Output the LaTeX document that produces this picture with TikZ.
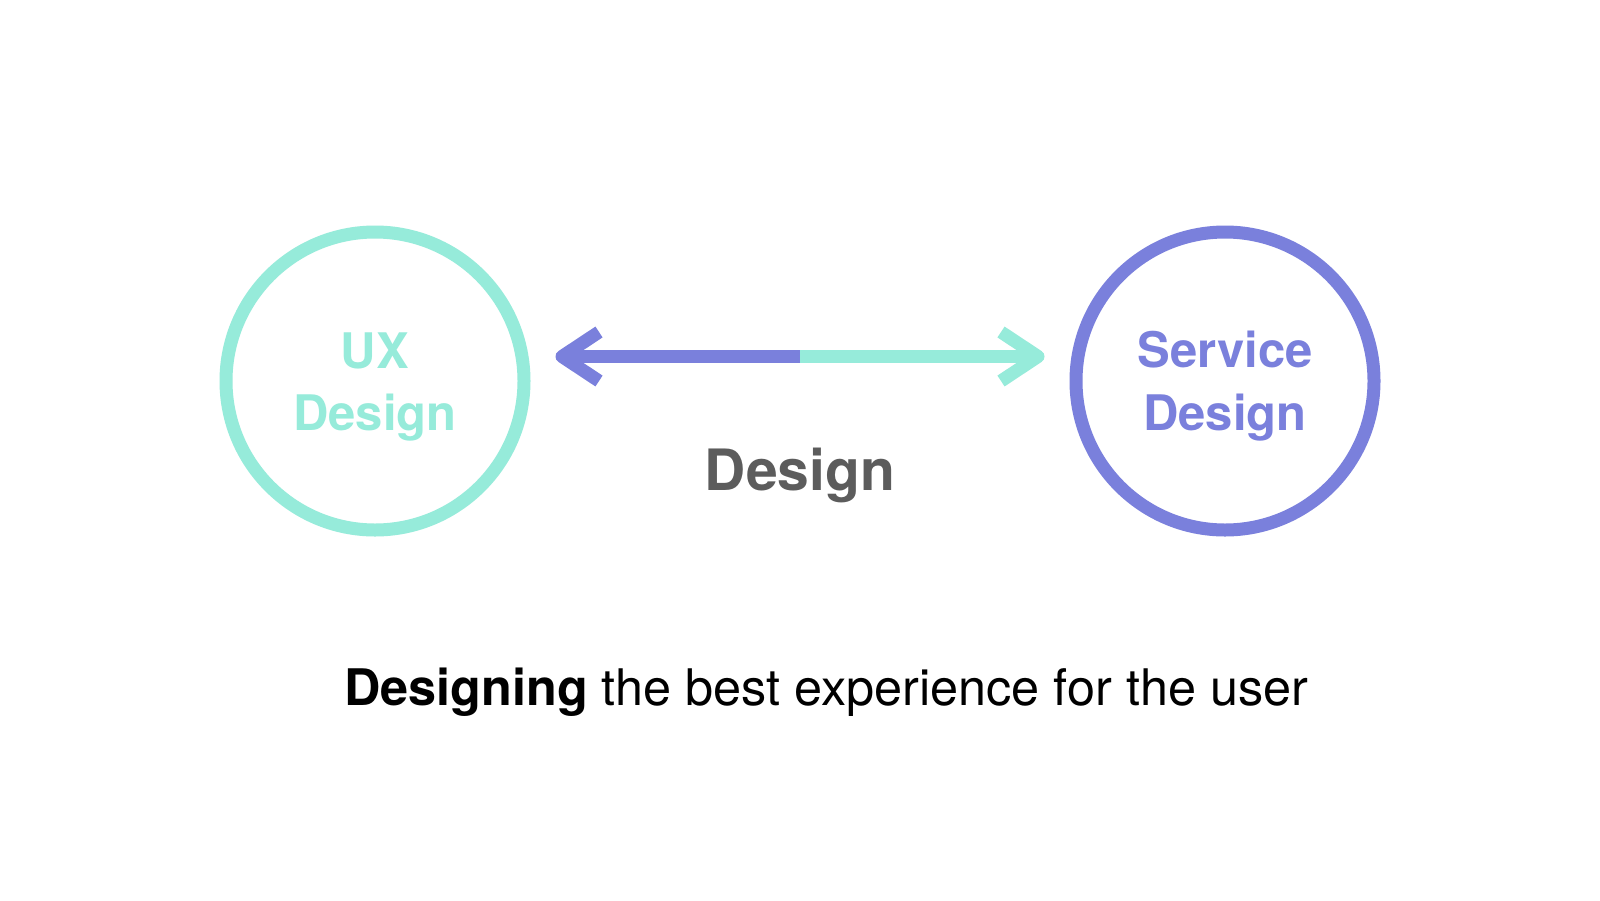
\documentclass[tikz,border=0pt]{standalone}
\usepackage{fontspec}
\setmainfont{TeX Gyre Heros}
\definecolor{mint}{HTML}{96EBDA}
\definecolor{violetc}{HTML}{7A80DC}
\definecolor{graytxt}{HTML}{5C5C5C}
\begin{document}
\begin{tikzpicture}[x=1pt,y=-1pt,
  ring/.style={circle, draw=#1, line width=13pt, minimum size=298pt, inner sep=0pt},
  ctext/.style={text=#1, anchor=base, inner sep=0pt, font=\fontsize{49}{60}\selectfont\bfseries},
  shaft/.style={draw=#1, line width=13pt, line cap=butt},
  chev/.style={draw=#1, line width=13pt, line join=round, line cap=butt}]
\useasboundingbox (0,0) rectangle (1600,900);
\fill[white] (0,0) rectangle (1600,900);
% circles
\node (ux) [ring=mint] at (375,381) {};
\node (sd) [ring=violetc] at (1225,381) {};
\node (uxa) [ctext=mint] at (375,368) {UX};
\node (uxb) [ctext=mint] at (375,430) {Design};
\node (sda) [ctext=violetc] at (1225,367) {Service};
\node (sdb) [ctext=violetc] at (1225,430) {Design};
% arrow
\coordinate (L) at (562,356.5);
\coordinate (M) at (800,356.5);
\coordinate (R) at (1038,356.5);
\draw[shaft=violetc] (L) -- (M);
\draw[shaft=mint] (M) -- (R);
\draw[chev=violetc] ([shift={(37,-24.5)}]L) -- (L) -- ([shift={(37,24.5)}]L);
\draw[chev=mint] ([shift={(-37,-24.5)}]R) -- (R) -- ([shift={(-37,24.5)}]R);
% labels
\node (mid) [anchor=base, inner sep=0pt, text=graytxt, font=\fontsize{57}{68}\selectfont\bfseries] at (800,490) {Design};
\node (cap) [anchor=base west, inner sep=0pt, font=\fontsize{50.4}{60}\selectfont] at (344,705) {\textbf{Designing} the best experience for the user};
\end{tikzpicture}
\end{document}
